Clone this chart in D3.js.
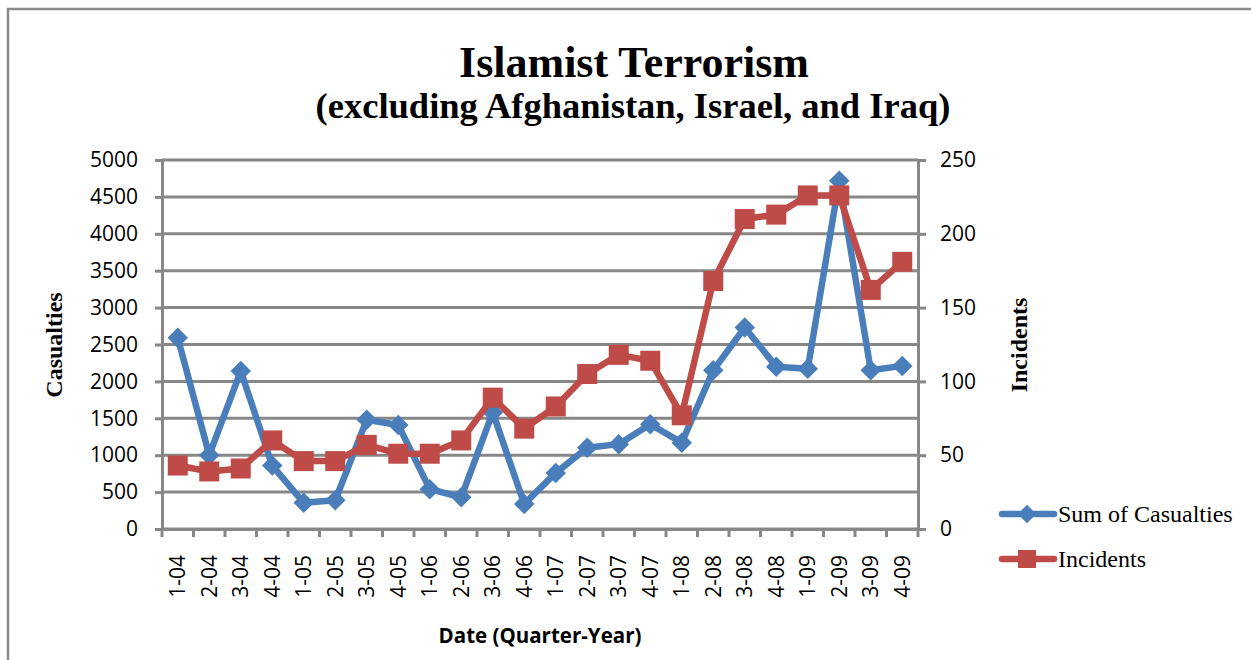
<!DOCTYPE html>
<html>
<head>
<meta charset="utf-8">
<script src="https://cdn.jsdelivr.net/npm/d3@7"></script>
<style>
  html, body { margin: 0; padding: 0; background: #ffffff; }
  svg { display: block; }
</style>
</head>
<body>
<svg id="chart" width="1251" height="660"></svg>
<script>
// ---- data ----
const quarters = ["1-04","2-04","3-04","4-04","1-05","2-05","3-05","4-05","1-06","2-06","3-06","4-06",
                  "1-07","2-07","3-07","4-07","1-08","2-08","3-08","4-08","1-09","2-09","3-09","4-09"];
const casualties = [2590,1000,2140,860,355,390,1480,1410,540,430,1580,340,
                    760,1100,1150,1420,1170,2150,2730,2200,2170,4720,2150,2210];
const incidents = [43,39,41,60,46,46,57,51,51,60,89,68,
                   83,105,118,114,77,168,210,213,226,226,162,181];
const leftTicks = [0,500,1000,1500,2000,2500,3000,3500,4000,4500,5000];
const rightTicks = [0,50,100,150,200,250];
const titleText = "Islamist Terrorism";
const subtitleText = "(excluding Afghanistan, Israel, and Iraq)";
const xTitle = "Date (Quarter-Year)";
const yLeftTitle = "Casualties";
const yRightTitle = "Incidents";
const seriesNames = ["Sum of Casualties", "Incidents"];

// ---- layout ----
const svg = d3.select("#chart");
const plot = { left: 162, right: 918, top: 160, bottom: 529 };
const blue = "#4A7EBB", red = "#BE4B48", gridCol = "#878787";
const sans = "'Open Sans', sans-serif";
const serif = "'Liberation Serif', 'Times New Roman', serif";

// outer frame
svg.append("rect").attr("x", 8).attr("y", 9).attr("width", 1300).attr("height", 700)
  .attr("fill", "#fff").attr("stroke", "#8a8a8a").attr("stroke-width", 2.5);

const x = d3.scaleBand().domain(quarters).range([plot.left, plot.right]).padding(0);
const yL = d3.scaleLinear().domain([0, 5000]).range([plot.bottom, plot.top]);
const yR = d3.scaleLinear().domain([0, 250]).range([plot.bottom, plot.top]);

// gridlines
svg.append("g").selectAll("line").data(leftTicks).join("line")
  .attr("x1", plot.left).attr("x2", plot.right)
  .attr("y1", d => yL(d)).attr("y2", d => yL(d))
  .attr("stroke", gridCol).attr("stroke-width", 3);

// axes
function styleAxis(g) {
  g.select(".domain").attr("stroke", gridCol).attr("stroke-width", 3);
  g.selectAll(".tick line").attr("stroke", gridCol).attr("stroke-width", 3);
  g.selectAll(".tick text").attr("fill", "#000").style("font-family", sans).style("font-size", "21px");
}
const gL = svg.append("g").attr("transform", `translate(${plot.left},0)`)
  .call(d3.axisLeft(yL).tickValues(leftTicks).tickFormat(d3.format("d")).tickSizeInner(7).tickSizeOuter(7).tickPadding(17));
styleAxis(gL);
const gR = svg.append("g").attr("transform", `translate(${plot.right},0)`)
  .call(d3.axisRight(yR).tickValues(rightTicks).tickFormat(d3.format("d")).tickSizeInner(8).tickSizeOuter(8).tickPadding(14));
styleAxis(gR);

// bottom axis: ticks at band boundaries
const gB = svg.append("g").attr("transform", `translate(0,${plot.bottom})`)
  .call(d3.axisBottom(x).tickSizeInner(0).tickSizeOuter(0).tickPadding(0));
gB.select(".domain").attr("stroke", gridCol).attr("stroke-width", 3);
gB.selectAll(".tick line").remove();
gB.selectAll(".tick text")
  .attr("transform", "rotate(-90)")
  .attr("x", -26).attr("y", 0).attr("dy", "0.36em")
  .attr("text-anchor", "end")
  .attr("fill", "#000").style("font-family", sans).style("font-size", "21px");
const bounds = quarters.map(q => x(q)).concat([plot.right]);
gB.append("g").selectAll("line").data(bounds).join("line")
  .attr("x1", d => d).attr("x2", d => d).attr("y1", 0).attr("y2", 8)
  .attr("stroke", gridCol).attr("stroke-width", 3);

// lines
const cx = d => x(d) + x.bandwidth() / 2;
const lineL = d3.line().x((d, i) => cx(quarters[i])).y(d => yL(d));
const lineR = d3.line().x((d, i) => cx(quarters[i])).y(d => yR(d));

svg.append("path").datum(casualties).attr("d", lineL)
  .attr("fill", "none").attr("stroke", blue).attr("stroke-width", 6.5)
  .attr("stroke-linejoin", "round").attr("stroke-linecap", "round");
const diamond = d3.symbol().type(d3.symbolSquare).size(210);
svg.append("g").selectAll("path").data(casualties).join("path")
  .attr("d", diamond())
  .attr("transform", (d, i) => `translate(${cx(quarters[i])},${yL(d)}) rotate(45)`)
  .attr("fill", blue);

svg.append("path").datum(incidents).attr("d", lineR)
  .attr("fill", "none").attr("stroke", red).attr("stroke-width", 6.5)
  .attr("stroke-linejoin", "round").attr("stroke-linecap", "round");
svg.append("g").selectAll("rect").data(incidents).join("rect")
  .attr("x", (d, i) => cx(quarters[i]) - 10).attr("y", d => yR(d) - 10)
  .attr("width", 20).attr("height", 20).attr("fill", red);

// titles
svg.append("text").attr("x", 634).attr("y", 77).attr("text-anchor", "middle")
  .style("font-family", serif).style("font-weight", "bold").style("font-size", "44px")
  .text(titleText);
svg.append("text").attr("x", 633).attr("y", 118).attr("text-anchor", "middle")
  .style("font-family", serif).style("font-weight", "bold").style("font-size", "36.5px")
  .text(subtitleText);

svg.append("text").attr("transform", "translate(62,345) rotate(-90)").attr("text-anchor", "middle")
  .style("font-family", serif).style("font-weight", "bold").style("font-size", "24px")
  .text(yLeftTitle);
svg.append("text").attr("transform", "translate(1027,345) rotate(-90)").attr("text-anchor", "middle")
  .style("font-family", serif).style("font-weight", "bold").style("font-size", "24px")
  .text(yRightTitle);
svg.append("text").attr("x", 540).attr("y", 643).attr("text-anchor", "middle")
  .style("font-family", sans).style("font-weight", "bold").style("font-size", "20.5px")
  .text(xTitle);

// legend
const legend = svg.append("g");
const legY = [514, 559];
legend.append("line").attr("x1", 1002).attr("x2", 1054).attr("y1", legY[0]).attr("y2", legY[0])
  .attr("stroke", blue).attr("stroke-width", 6.5).attr("stroke-linecap", "round");
legend.append("path").attr("d", d3.symbol().type(d3.symbolSquare).size(170)())
  .attr("transform", `translate(1027,${legY[0]}) rotate(45)`).attr("fill", blue);
legend.append("line").attr("x1", 1002).attr("x2", 1054).attr("y1", legY[1]).attr("y2", legY[1])
  .attr("stroke", red).attr("stroke-width", 6.5).attr("stroke-linecap", "round");
legend.append("rect").attr("x", 1027 - 9).attr("y", legY[1] - 9).attr("width", 18).attr("height", 18).attr("fill", red);
legend.selectAll("text").data(seriesNames).join("text")
  .attr("x", 1058).attr("y", (d, i) => legY[i] + 8)
  .style("font-family", serif).style("font-size", "24px").attr("fill", "#000")
  .text(d => d);
</script>
</body>
</html>
